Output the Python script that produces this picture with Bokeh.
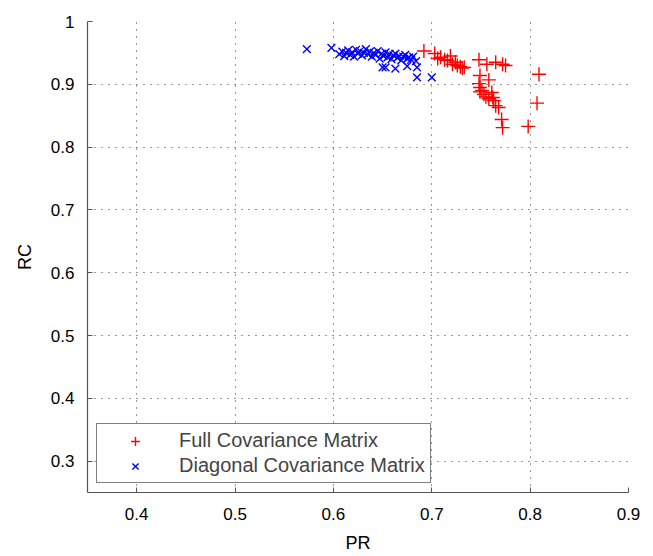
from bokeh.plotting import figure
from bokeh.models import Range1d, FixedTicker, Legend, LegendItem
from bokeh.embed import file_html
from bokeh.resources import INLINE

red_pr = [0.692, 0.703, 0.706, 0.709, 0.713, 0.716, 0.719, 0.721, 0.724, 0.726,
          0.729, 0.731, 0.733, 0.748, 0.749, 0.756, 0.758, 0.765, 0.772, 0.775,
          0.748, 0.749, 0.749, 0.751, 0.753, 0.755, 0.758, 0.761, 0.762, 0.763,
          0.765, 0.768, 0.771, 0.772, 0.798, 0.807, 0.809]
red_rc = [0.953, 0.949, 0.941, 0.943, 0.939, 0.938, 0.945, 0.932, 0.935, 0.930,
          0.928, 0.926, 0.927, 0.939, 0.914, 0.932, 0.907, 0.935, 0.932, 0.930,
          0.901, 0.895, 0.888, 0.890, 0.884, 0.880, 0.877, 0.887, 0.879, 0.874,
          0.866, 0.863, 0.844, 0.831, 0.833, 0.870, 0.916]

blue_pr = [0.573, 0.598, 0.606, 0.609, 0.611, 0.613, 0.615, 0.617, 0.619, 0.621,
           0.623, 0.625, 0.627, 0.629, 0.631, 0.633, 0.635, 0.637, 0.639, 0.641,
           0.643, 0.645, 0.647, 0.649, 0.651, 0.653, 0.655, 0.657, 0.659, 0.661,
           0.663, 0.665, 0.667, 0.669, 0.671, 0.673, 0.675, 0.677, 0.679, 0.681,
           0.684, 0.650, 0.653, 0.663, 0.675, 0.685, 0.685, 0.700]
blue_rc = [0.956, 0.958, 0.948, 0.952, 0.945, 0.950, 0.954, 0.947, 0.951, 0.944,
           0.955, 0.949, 0.953, 0.946, 0.950, 0.956, 0.948, 0.952, 0.944, 0.950,
           0.947, 0.953, 0.941, 0.949, 0.945, 0.951, 0.943, 0.948, 0.940, 0.946,
           0.949, 0.942, 0.945, 0.938, 0.944, 0.947, 0.941, 0.943, 0.939, 0.944,
           0.937, 0.927, 0.927, 0.925, 0.929, 0.927, 0.911, 0.911]

x_ticks = [0.4, 0.5, 0.6, 0.7, 0.8, 0.9]
y_ticks = [0.3, 0.4, 0.5, 0.6, 0.7, 0.8, 0.9, 1.0]
labels = ["Full Covariance Matrix", "Diagonal Covariance Matrix"]

FONT = "Liberation Sans"

p = figure(width=646, height=552, output_backend="svg", toolbar_location=None,
           x_range=Range1d(0.35, 0.9), y_range=Range1d(0.25, 1.0),
           frame_width=541, frame_height=471,
           min_border_left=87, min_border_top=21, min_border_right=18, min_border_bottom=60)
p.outline_line_color = None
p.background_fill_color = "white"
p.border_fill_color = "white"

for ax in (p.xaxis[0], p.yaxis[0]):
    ax.axis_line_color = "#555555"
    ax.axis_line_width = 1.2
    ax.major_tick_line_color = "#555555"
    ax.major_tick_in = 5
    ax.major_tick_out = 0
    ax.minor_tick_line_color = None
    ax.major_label_text_font = FONT
    ax.major_label_text_font_size = "17px"
    ax.major_label_text_color = "black"
    ax.axis_label_text_font = FONT
    ax.axis_label_text_font_size = "18px"
    ax.axis_label_text_font_style = "normal"
    ax.axis_label_text_color = "black"

p.xaxis.ticker = FixedTicker(ticks=x_ticks)
p.yaxis.ticker = FixedTicker(ticks=y_ticks)
p.yaxis.major_label_overrides = {1.0: "1"}
p.xaxis.axis_label = "PR"
p.yaxis.axis_label = "RC"
p.xaxis.major_label_standoff = 15
p.yaxis.major_label_standoff = 13
p.xaxis.axis_label_standoff = 10
p.yaxis.axis_label_standoff = 13

for g in (p.xgrid[0], p.ygrid[0]):
    g.grid_line_color = "#333333"
    g.grid_line_dash = "1 6"
    g.grid_line_width = 1

r1 = p.scatter(red_pr, red_rc, marker="cross", size=14,
               line_color="#ff0000", fill_color="#ff0000", line_width=1.4)
r2 = p.scatter(blue_pr, blue_rc, marker="x", size=11,
               line_color="#0000ff", fill_color="#0000ff", line_width=1.4)

legend = Legend(items=[LegendItem(label=labels[0], renderers=[r1]),
                       LegendItem(label=labels[1], renderers=[r2])],
                location=(9, 9), padding=5, margin=0, spacing=2,
                glyph_width=66, glyph_height=22, label_height=22, label_standoff=11,
                label_text_font=FONT, label_text_font_size="20px",
                border_line_color="black", border_line_width=1.5,
                background_fill_alpha=1.0)
p.add_layout(legend)

open("out.html", "w").write(file_html(p, INLINE))
